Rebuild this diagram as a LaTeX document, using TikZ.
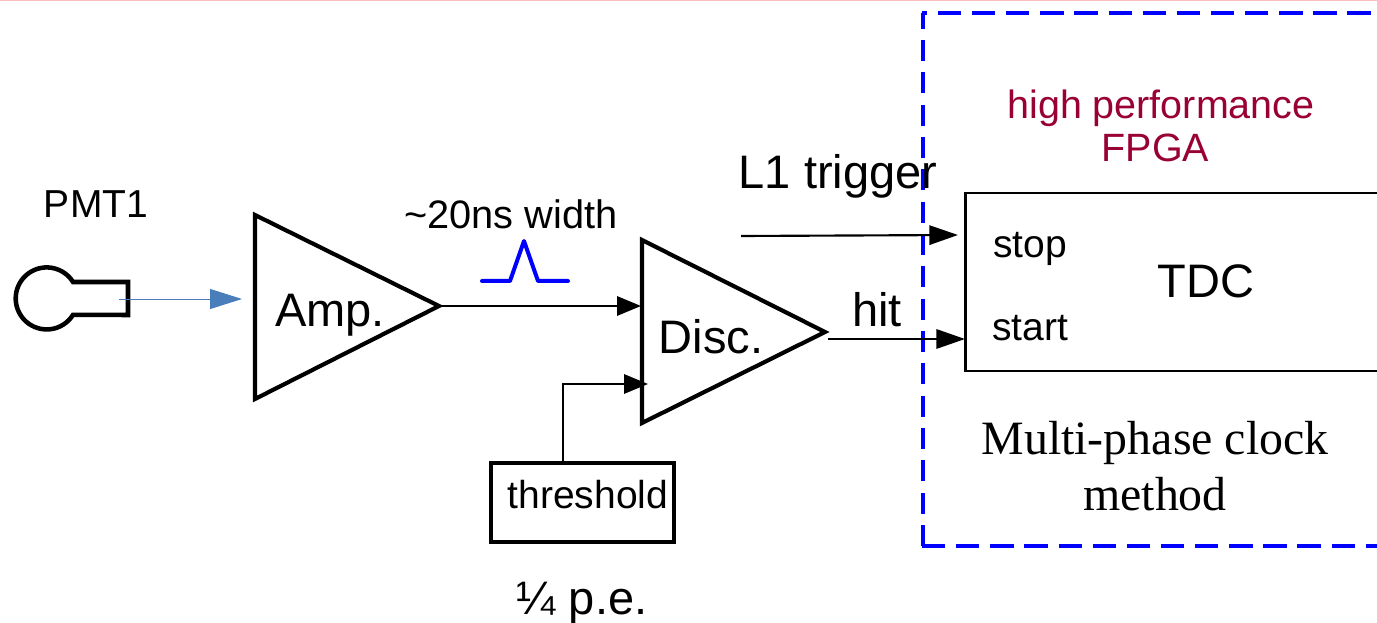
\documentclass[tikz,border=0pt]{standalone}
\usepackage{fontspec}
\setmainfont{Liberation Sans}
\newfontfamily\timesfont{Liberation Serif}
\usetikzlibrary{arrows.meta}
\definecolor{fpgared}{RGB}{153,0,51}
\definecolor{pmtblue}{RGB}{74,126,187}
\definecolor{toppink}{RGB}{246,190,190}
\tikzset{
  heavy/.style={line width=3.1pt,line join=miter},
  signal/.style={line width=1.6pt,-{Triangle[length=18pt,width=14.5pt]}},
  longsignal/.style={line width=1.6pt,-{Triangle[length=21.5pt,width=14.5pt]}},
  fpgaedge/.style={blue,line width=2.3pt},
  small/.style={inner sep=0pt,font=\fontsize{29.25}{34}\selectfont},
  big/.style={inner sep=0pt,font=\fontsize{35.25}{40}\selectfont},
  maroontext/.style={inner sep=0pt,text=fpgared,font=\fontsize{29.6}{34}\selectfont},
}
\begin{document}
\begin{tikzpicture}[x=0.75pt,y=0.75pt,yscale=-1]
\useasboundingbox (0,0) rectangle (1377,623);

%top edge
\draw [toppink,line width=1pt] (0,0.5) -- (1377,0.5);

%FPGA region, runs off the right side
\draw [fpgaedge,dash pattern=on 15.75pt off 8.5pt] (923,546) -- (923,13);
\draw [fpgaedge,dash pattern=on 17.5pt off 8.1pt,dash phase=13.7pt] (922,13) -- (1377,13);
\draw [fpgaedge,dash pattern=on 17.5pt off 8.1pt] (922,546) -- (1377,546);

%PMT
\draw [heavy,line width=3.4pt] (73,282) arc (-32:-328:31) -- (128,315) -- (128,282) -- cycle;
\coordinate (pmtout) at (119,299);
\coordinate (ampin) at (242,299);
\draw [pmtblue,line width=0.7pt,-{Triangle[length=24pt,width=15pt]}] (pmtout) -- (ampin);

%Amp
\draw [heavy] (255,215) -- (255,399) -- (439,306) -- cycle;
\coordinate (ampout) at (440,306);
%Disc
\draw [heavy] (642,240) -- (642,423) -- (825,332) -- cycle;
\coordinate (discin) at (641,306);
\coordinate (discth) at (648,384);
\coordinate (discout) at (828,339);

%TDC
\draw [line width=2.1pt] (1377,193) -- (965.5,193) -- (965.5,371) -- (1377,371);
\coordinate (stopin) at (958,235);
\coordinate (startin) at (965,339);
\coordinate (l1start) at (741,236);

%threshold
\node (thbox) [draw,heavy,minimum width=137pt,minimum height=59pt,inner sep=0pt] at (582.5,502.5) {};
\coordinate (thtap) at (563,461);

\draw [signal] (ampout) -- (discin);
\draw [signal] (thtap) |- (discth);
\draw [longsignal] (discout) -- (startin);
\draw [longsignal] (l1start) -- (stopin);

%pulse
\draw [blue,line width=3pt,line join=round,line cap=round] (482,281) -- (510,281) -- (524,241) -- (538,281) -- (568,281);

% Text Node
\node (pmtlabel) [small] at (96,204) {PMT1};
\node (amplabel) [big] at (330,315) {Amp.};
\node (widthlabel) [small,font=\fontsize{29.8}{34}\selectfont] at (511,214) {\textasciitilde 20ns width};
\node (disclabel) [big] at (711,337) {Disc.};
\node (hitlabel) [big] at (877,310) {hit};
\node (l1label) [big] at (838,176) {L1 trigger};
\node (stoplabel) [small] at (1030,249) {stop};
\node (startlabel) [small] at (1030,328) {start};
\node (tdclabel) [big] at (1206,281) {TDC};
\node (thlabel) [small] at (588,495) {threshold};
\node (pelabel) [big] at (582,603) {¼ p.e.};
\node (fpgalabel) [maroontext] at (1161,108) {high performance};
\node (fpgalabelb) [maroontext] at (1155.5,148) {FPGA};
\node (methodlabel) [inner sep=0pt,align=center,font=\timesfont\fontsize{35.9}{42}\selectfont] at (1155,466) {Multi-phase clock\\method};

\end{tikzpicture}
\end{document}
